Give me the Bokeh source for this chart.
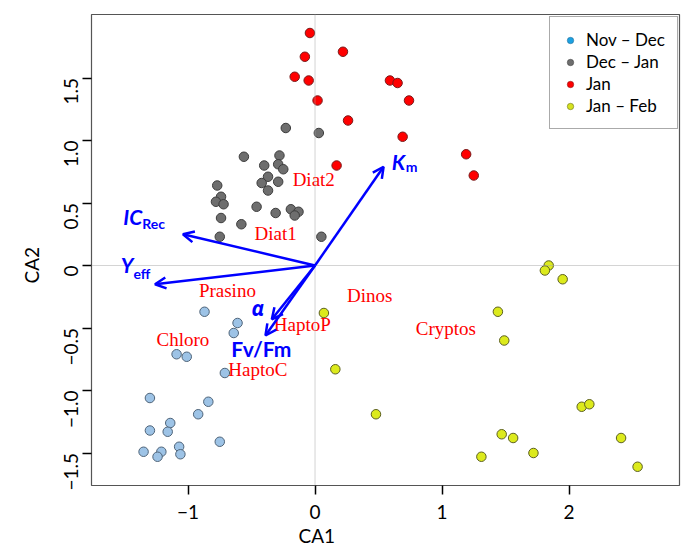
import math

from bokeh.core.properties import value
from bokeh.embed import file_html
from bokeh.models import (Arrow, ColumnDataSource, FixedTicker, Label, Legend,
                          LegendItem, OpenHead, Range1d, Span, Title)
from bokeh.plotting import figure
from bokeh.resources import INLINE

# --- sample scores on the first two CA axes, by sampling period ---
novdec_ca1 = [-0.87, -0.61, -0.64, -1.09, -1.01, -0.71, -1.30, -0.84, -0.92,
              -1.14, -1.30, -1.16, -0.75, -1.35, -1.21, -1.24, -1.07, -1.06]
novdec_ca2 = [-0.37, -0.46, -0.54, -0.71, -0.73, -0.86, -1.06, -1.09, -1.19,
              -1.26, -1.32, -1.33, -1.41, -1.49, -1.49, -1.53, -1.45, -1.51]

decjan_ca1 = [-0.23, 0.03, -0.56, -0.28, -0.40, -0.29, -0.25, -0.37, -0.42,
              -0.29, -0.37, -0.77, -0.74, -0.78, -0.72, -0.74, -0.46, -0.31,
              -0.19, -0.13, -0.16, -0.58, -0.75, 0.05]
decjan_ca2 = [1.10, 1.06, 0.87, 0.88, 0.80, 0.81, 0.77, 0.71, 0.66, 0.67,
              0.60, 0.64, 0.55, 0.51, 0.49, 0.38, 0.47, 0.42, 0.45, 0.43,
              0.40, 0.33, 0.23, 0.23]

jan_ca1 = [-0.04, 0.22, -0.08, -0.16, -0.05, 0.02, 0.26, 0.17, 0.59, 0.65,
           0.74, 0.69, 1.19, 1.25]
jan_ca2 = [1.86, 1.71, 1.67, 1.51, 1.48, 1.32, 1.16, 0.80, 1.48, 1.46, 1.32,
           1.03, 0.89, 0.72]

janfeb_ca1 = [1.84, 1.81, 1.95, 1.44, 1.49, 2.10, 2.16, 1.47, 1.56, 2.41,
              1.72, 1.31, 2.54, 0.07, 0.16, 0.48]
janfeb_ca2 = [0.00, -0.04, -0.11, -0.37, -0.60, -1.13, -1.11, -1.35, -1.38,
              -1.38, -1.50, -1.53, -1.61, -0.38, -0.83, -1.19]

period_names = ["Nov \u2013 Dec", "Dec \u2013 Jan", "Jan", "Jan \u2013 Feb"]

# --- phytoplankton groups (species scores) ---
group_names = ["Diat2", "Diat1", "Prasino", "Dinos", "HaptoP", "Chloro",
               "HaptoC", "Cryptos"]
group_ca1 = [-0.01, -0.31, -0.69, 0.43, -0.10, -1.04, -0.45, 1.03]
group_ca2 = [0.69, 0.26, -0.20, -0.24, -0.47, -0.59, -0.83, -0.50]

# --- photophysiological variables (biplot arrows) ---
var_main = ["IC", "Y", "K", "\u03b1", "Fv/Fm"]
var_sub = ["Rec", "eff", "m", "", ""]
var_ca1 = [-1.04, -1.26, 0.54, -0.34, -0.39]
var_ca2 = [0.25, -0.15, 0.79, -0.43, -0.56]
var_label_ca1 = [-1.51, -1.53, 0.605, -0.50, -0.66]
var_label_ca2 = [0.39, 0.006, 0.83, -0.34, -0.663]
var_sub_ca1 = [-1.36, -1.43, 0.715, None, None]
var_sub_ca2 = [0.338, -0.062, 0.79, None, None]

x_ticks = [-1.0, 0.0, 1.0, 2.0]
x_tick_labels = ["\u22121", "0", "1", "2"]
y_ticks = [-1.5, -1.0, -0.5, 0.0, 0.5, 1.0, 1.5]
y_tick_labels = ["\u22121.5", "\u22121.0", "\u22120.5", "0", "0.5", "1.0", "1.5"]

# --- styling ---
SANS = "Lato"
SERIF = "Liberation Serif"
BLUE = "#0000FF"

p = figure(width=681, height=553, output_backend="svg", toolbar_location=None,
           x_range=Range1d(-1.760, 2.870), y_range=Range1d(-1.760, 2.008),
           min_border_left=91, min_border_right=2, min_border_top=14,
           min_border_bottom=68)
p.background_fill_color = "white"
p.border_fill_color = "white"
p.grid.visible = False
p.outline_line_color = "#555555"
p.outline_line_width = 1.2

for ax in (p.xaxis[0], p.yaxis[0]):
    ax.axis_line_color = None
    ax.major_tick_line_color = "black"
    ax.major_tick_line_width = 1.5
    ax.major_tick_out = 9
    ax.major_tick_in = 0
    ax.minor_tick_line_color = None
    ax.major_label_text_font = SANS
    ax.major_label_text_font_size = "19px"
    ax.major_label_text_color = "black"

p.xaxis.ticker = FixedTicker(ticks=x_ticks)
p.xaxis.major_label_overrides = dict(zip(x_ticks, x_tick_labels))
p.xaxis.major_label_standoff = 10
p.yaxis.ticker = FixedTicker(ticks=y_ticks)
p.yaxis.major_label_overrides = dict(zip(y_ticks, y_tick_labels))
p.yaxis.major_label_orientation = math.pi / 2
p.yaxis.major_label_standoff = 12

# axis titles
p.add_layout(Title(text="CA1", align="left", offset=207, standoff=5,
                   vertical_align="top", text_font=SANS,
                   text_font_size="19px", text_font_style="normal",
                   text_color="black"), "below")
p.add_layout(Title(text="CA2", align="left", offset=202, standoff=22,
                   text_font=SANS, text_font_size="19px",
                   text_font_style="normal", text_color="black"), "left")

# dotted zero lines
for dim in ("height", "width"):
    p.add_layout(Span(location=0, dimension=dim, line_color="#a8a8a8",
                      line_width=1, line_dash="1 1"))

# legend swatches: drawn first, each sitting under the first point of its
# period so only the legend shows them
legend_colors = ["#1BA1E2", "#6E6E6E", "#FF0000", "#D6E21E"]
legend_edges = ["#2A6F99", "#444444", "#8A1A1A", "#6A7020"]
first_pts = [(novdec_ca1, novdec_ca2), (decjan_ca1, decjan_ca2),
             (jan_ca1, jan_ca2), (janfeb_ca1, janfeb_ca2)]
items = []
for name, col, edge, (xs, ys) in zip(period_names, legend_colors,
                                     legend_edges, first_pts):
    r = p.scatter(xs[:1], ys[:1], marker="circle", size=8, fill_color=col,
                  line_color=edge, line_width=0.6)
    items.append(LegendItem(label=name, renderers=[r]))

# sample points
point_styles = [
    (novdec_ca1, novdec_ca2, "#9DC3E6", "#4F6479"),
    (decjan_ca1, decjan_ca2, "#6E6E6E", "#3C3C3C"),
    (jan_ca1, jan_ca2, "#FF0000", "#7A1A1A"),
    (janfeb_ca1, janfeb_ca2, "#DCEA1C", "#5C6020"),
]
for xs, ys, fill, edge in point_styles:
    p.scatter(xs, ys, marker="circle", size=9.5, fill_color=fill,
              line_color=edge, line_width=1)

# variable arrows
arrow_src = ColumnDataSource(dict(x0=[0.0] * len(var_ca1), y0=[0.0] * len(var_ca1),
                                  x1=var_ca1, y1=var_ca2))
p.add_layout(Arrow(x_start="x0", y_start="y0", x_end="x1", y_end="y1",
                   source=arrow_src, line_color=BLUE, line_width=2.5,
                   end=OpenHead(size=11, line_color=BLUE, line_width=2.5)))

# group names
group_src = ColumnDataSource(dict(x=group_ca1, y=group_ca2, t=group_names))
p.text("x", "y", text="t", source=group_src, text_align="center",
       text_baseline="middle", text_color="#FF0000",
       text_font=value(SERIF), text_font_size="19px")

# variable names with subscripts
for i, name in enumerate(var_main):
    font = "Noto Sans" if name == "\u03b1" else SANS
    style = "bold" if name == "Fv/Fm" else "bold italic"
    p.add_layout(Label(x=var_label_ca1[i], y=var_label_ca2[i], text=name,
                       text_font=font, text_font_style=style,
                       text_font_size="21px", text_color=BLUE,
                       text_align="left", text_baseline="alphabetic"))
    if var_sub[i]:
        p.add_layout(Label(x=var_sub_ca1[i], y=var_sub_ca2[i], text=var_sub[i],
                           text_font=SANS, text_font_style="bold",
                           text_font_size="14px", text_color=BLUE,
                           text_align="left", text_baseline="alphabetic"))

# legend
legend = Legend(items=items, location=(458, 356))
legend.border_line_color = "#555555"
legend.border_line_width = 1
legend.background_fill_color = "white"
legend.background_fill_alpha = 1
legend.label_text_font = SANS
legend.label_text_font_size = "17px"
legend.label_text_color = "black"
legend.padding = 12
legend.spacing = 1
legend.margin = 0
legend.label_height = 20
legend.glyph_height = 20
legend.glyph_width = 16
legend.label_standoff = 8
p.add_layout(legend)

open("out.html", "w").write(file_html(p, INLINE))
